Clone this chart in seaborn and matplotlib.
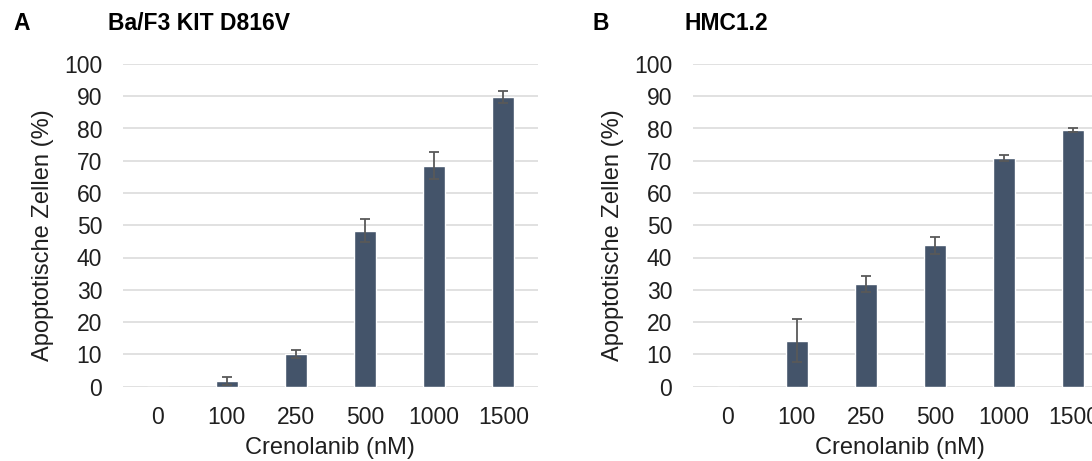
import matplotlib
matplotlib.use("Agg")
import matplotlib.pyplot as plt
import seaborn as sns
import pandas as pd
import numpy as np

# Crenolanib concentrations (nM)
doses = ["0", "100", "250", "500", "1000", "1500"]

# Panel A: Ba/F3 KIT D816V, apoptotic cells (%) with SD
baf3_mean = [0.0, 1.7, 10.1, 48.3, 68.5, 89.8]
baf3_sd = [0.0, 1.3, 1.3, 3.5, 4.3, 1.9]

# Panel B: HMC1.2, apoptotic cells (%) with SD
hmc_mean = [0.0, 14.2, 31.7, 43.8, 70.9, 79.5]
hmc_sd = [0.0, 6.7, 2.5, 2.6, 1.0, 0.7]

yticks = [0, 10, 20, 30, 40, 50, 60, 70, 80, 90, 100]

sns.set_theme(style="white")
plt.rcParams["font.family"] = ["Liberation Sans", "DejaVu Sans"]

BAR = "#44546A"
ERR = "#595959"
GRID = "#D9D9D9"
TXT = "#1F1F1F"

W, H = 1092, 461
fig = plt.figure(figsize=(W / 100, H / 100), dpi=100)

panels = [
    ("A", "Ba/F3 KIT D816V", baf3_mean, baf3_sd, 123, 13, 108),
    ("B", "HMC1.2", hmc_mean, hmc_sd, 693, 593, 685),
]

ax_w = 415
y0_px, y100_px = 386.5, 64.0

for letter, title, means, sds, left_px, letter_x, title_x in panels:
    ax = fig.add_axes([left_px / W, 1 - y0_px / H, ax_w / W, (y0_px - y100_px) / H])
    df = pd.DataFrame({"dose": doses, "pct": means, "sd": sds})
    sns.barplot(data=df, x="dose", y="pct", order=doses, color=BAR,
                saturation=1, width=0.32, errorbar=None, ax=ax, zorder=3)
    show = df["pct"] > 0
    xpos = np.arange(len(doses))[show.values]
    ax.errorbar(xpos, df.loc[show, "pct"], yerr=df.loc[show, "sd"], fmt="none",
                ecolor=ERR, elinewidth=1.3, capsize=3.6, capthick=1.3, zorder=4)

    ax.set_xlim(-0.5, len(doses) - 0.5)
    ax.set_ylim(0, 100)
    ax.set_yticks(yticks)
    ax.yaxis.grid(True, color=GRID, linewidth=1.1, zorder=0)
    ax.set_axisbelow(True)
    for s in ax.spines.values():
        s.set_visible(False)
    ax.tick_params(axis="both", length=0, labelsize=16.5, colors=TXT)
    ax.tick_params(axis="y", pad=15)
    ax.tick_params(axis="x", pad=14)
    ax.set_xlabel("")
    ax.set_ylabel("")

    off = left_px - 123
    fig.text((43 + off) / W, 1 - 235 / H, "Apoptotische Zellen (%)", rotation=90,
             ha="center", va="center", fontsize=17, color=TXT)
    fig.text((330 + off) / W, 1 - 448 / H, "Crenolanib (nM)",
             ha="center", va="center", fontsize=17, color=TXT)
    fig.text(letter_x / W, 1 - 23.5 / H, letter,
             ha="left", va="center", fontsize=16.5, fontweight="bold", color="black")
    fig.text(title_x / W, 1 - 23.5 / H, title,
             ha="left", va="center", fontsize=16.5, fontweight="bold", color="black")

fig.savefig("out.png", dpi=100, facecolor="white")
